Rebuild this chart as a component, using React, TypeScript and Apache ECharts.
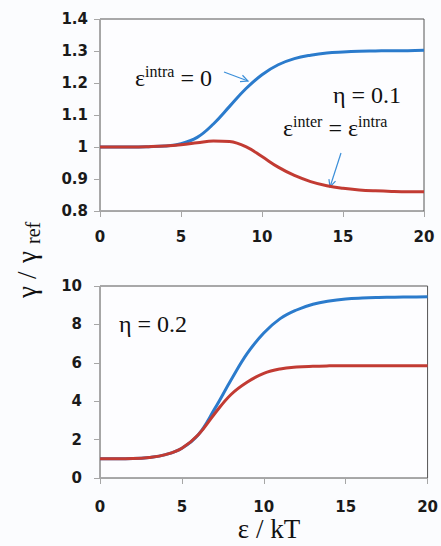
import React, { useEffect, useRef } from "react";
import * as echarts from "echarts";

const EPS = [0, 1, 2, 3, 4, 5, 6, 7, 8, 9, 10, 11, 12, 13, 14, 15, 16, 17, 18, 19, 20];
const TOP_BLUE = [1.0, 1.0, 1.0, 1.001, 1.003, 1.01, 1.03, 1.072, 1.127, 1.182, 1.226, 1.257, 1.276, 1.287, 1.294, 1.297, 1.299, 1.3, 1.301, 1.301, 1.302];
const TOP_RED = [1.0, 1.0, 1.0, 1.001, 1.003, 1.007, 1.013, 1.019, 1.017, 1.001, 0.97, 0.937, 0.911, 0.892, 0.879, 0.871, 0.866, 0.863, 0.861, 0.86, 0.86];
const BOTTOM_BLUE = [1.0, 1.0, 1.01, 1.07, 1.22, 1.55, 2.25, 3.6, 5.1, 6.5, 7.55, 8.3, 8.75, 9.05, 9.22, 9.32, 9.37, 9.4, 9.42, 9.43, 9.44];
const BOTTOM_RED = [1.0, 1.0, 1.01, 1.07, 1.22, 1.55, 2.25, 3.35, 4.35, 5.0, 5.45, 5.68, 5.78, 5.82, 5.84, 5.85, 5.85, 5.85, 5.85, 5.85, 5.85];

const BLUE = "#2b7bcc";
const RED = "#c23b33";
const AXIS_GRAY = "#a6a6a6";
const FRAME = "#555555";
const LABEL_FONT = "DejaVu Sans";
const SERIF = "'Liberation Serif', 'Times New Roman', serif";
const INK = "#111111";

function pairs(ys: number[]) {
  return EPS.map((e, i) => [e, ys[i]]);
}

function arrow(x1: number, y1: number, x2: number, y2: number) {
  const dx = x2 - x1;
  const dy = y2 - y1;
  const len = Math.sqrt(dx * dx + dy * dy);
  const ux = dx / len;
  const uy = dy / len;
  const h = 8;
  const a = Math.PI / 7;
  const cos = Math.cos(a);
  const sin = Math.sin(a);
  const p1 = [x2 - h * (ux * cos - uy * sin), y2 - h * (uy * cos + ux * sin)];
  const p2 = [x2 - h * (ux * cos + uy * sin), y2 - h * (uy * cos - ux * sin)];
  const style = { stroke: "#3b8fd9", lineWidth: 1.2, fill: null };
  return [
    { type: "line", shape: { x1, y1, x2, y2 }, style },
    { type: "polyline", shape: { points: [p1, [x2, y2], p2] }, style },
  ];
}

function xAxisCfg(gridIndex: number, margin: number) {
  return {
    type: "value",
    gridIndex,
    min: 0,
    max: 20,
    interval: 5,
    axisLine: { show: true, onZero: false, lineStyle: { color: AXIS_GRAY, width: 1 } },
    axisTick: { show: true, length: 6, lineStyle: { color: AXIS_GRAY } },
    axisLabel: { fontFamily: LABEL_FONT, fontWeight: "bold", fontSize: 15, color: "#1a1a1a", margin },
    splitLine: { show: false },
  };
}

function yAxisCfg(gridIndex: number, min: number, max: number, interval: number, margin: number) {
  return {
    type: "value",
    gridIndex,
    min,
    max,
    interval,
    axisLine: { show: true, onZero: false, lineStyle: { color: AXIS_GRAY, width: 1 } },
    axisTick: { show: true, length: 6, lineStyle: { color: AXIS_GRAY } },
    axisLabel: {
      fontFamily: LABEL_FONT,
      fontWeight: "bold",
      fontSize: 15,
      color: "#1a1a1a",
      margin,
      formatter: (v: number) => String(Math.round(v * 10) / 10),
    },
    splitLine: { show: false },
  };
}

const serifRich = {
  m: { fontFamily: SERIF, fontSize: 24, fill: INK },
  sup: { fontFamily: SERIF, fontSize: 16, fill: INK, padding: [0, 0, 13, 0] },
};

function vText(text: string, x: number, y: number, size: number) {
  return {
    type: "text",
    x,
    y,
    style: { text, fontFamily: SERIF, fontSize: size, fill: INK, align: "left", verticalAlign: "middle" },
  };
}

export default function App() {
  const ref = useRef<HTMLDivElement>(null);
  useEffect(() => {
    if (!ref.current) return;
    const chart = echarts.init(ref.current, undefined, { renderer: "svg" });
    const option: any = {
      animation: false,
      backgroundColor: "#fbfcfe",
      grid: [
        { left: 100, top: 19, width: 324, height: 192, show: true, borderColor: FRAME, borderWidth: 1, backgroundColor: "#fdfdff" },
        { left: 100, top: 286, width: 332, height: 192, show: true, borderColor: FRAME, borderWidth: 1, backgroundColor: "#fdfdff" },
      ],
      xAxis: [xAxisCfg(0, 18), xAxisCfg(1, 21)],
      yAxis: [yAxisCfg(0, 0.8, 1.4, 0.1, 12), yAxisCfg(1, 0, 10, 2, 18)],
      series: [
        { type: "line", xAxisIndex: 0, yAxisIndex: 0, data: pairs(TOP_BLUE), showSymbol: false, smooth: 0.4, lineStyle: { color: BLUE, width: 3 }, itemStyle: { color: BLUE } },
        { type: "line", xAxisIndex: 0, yAxisIndex: 0, data: pairs(TOP_RED), showSymbol: false, smooth: 0.4, lineStyle: { color: RED, width: 3 }, itemStyle: { color: RED } },
        { type: "line", xAxisIndex: 1, yAxisIndex: 1, data: pairs(BOTTOM_BLUE), showSymbol: false, smooth: 0.4, lineStyle: { color: BLUE, width: 3 }, itemStyle: { color: BLUE } },
        { type: "line", xAxisIndex: 1, yAxisIndex: 1, data: pairs(BOTTOM_RED), showSymbol: false, smooth: 0.4, lineStyle: { color: RED, width: 3 }, itemStyle: { color: RED } },
      ],
      graphic: [
        {
          type: "text",
          x: 135,
          y: 78,
          style: { text: "{m|ε}{sup|intra}{m| = 0}", rich: serifRich, verticalAlign: "middle" },
        },
        {
          type: "text",
          x: 333,
          y: 95,
          style: { text: "η = 0.1", fontFamily: SERIF, fontSize: 24, fill: INK, verticalAlign: "middle" },
        },
        {
          type: "text",
          x: 283,
          y: 128,
          style: { text: "{m|ε}{sup|inter}{m| = ε}{sup|intra}", rich: serifRich, verticalAlign: "middle" },
        },
        {
          type: "text",
          x: 119,
          y: 324,
          style: { text: "η = 0.2", fontFamily: SERIF, fontSize: 24, fill: INK, verticalAlign: "middle" },
        },
        ...arrow(224, 72, 248, 81),
        ...arrow(341, 153, 330, 187),
        {
          type: "text",
          x: 269,
          y: 529,
          style: { text: "ε / kT", fontFamily: SERIF, fontSize: 27, fill: INK, align: "center", verticalAlign: "middle" },
        },
        {
          type: "group",
          x: 27,
          y: 298,
          rotation: Math.PI / 2,
          children: [
            vText("γ", 0, 0, 27),
            vText("/", 19, 0, 27),
            vText("γ", 35, 0, 27),
            vText("ref", 54, 6, 20),
          ],
        },
      ],
    };
    chart.setOption(option);
    return () => chart.dispose();
  }, []);
  return <div ref={ref} style={{ position: "absolute", left: 0, top: 0, width: 441, height: 546 }} />;
}
